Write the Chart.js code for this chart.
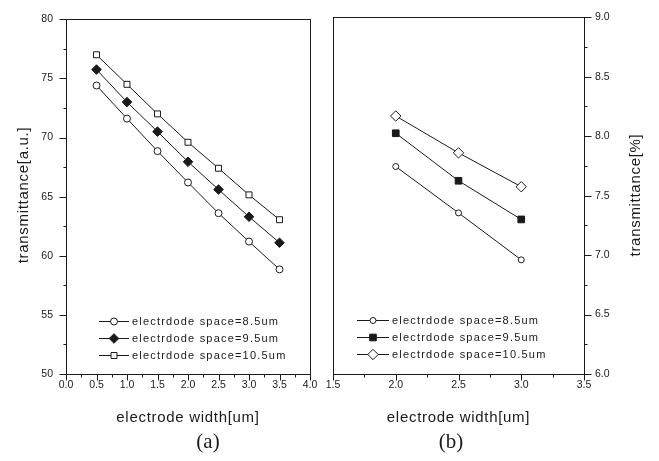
<!DOCTYPE html>
<html>
<head>
<meta charset="utf-8">
<script src="https://cdn.jsdelivr.net/npm/chart.js@4.4.1/dist/chart.umd.min.js"></script>
<style>
  html, body { margin: 0; padding: 0; background: #fff; }
  body { width: 659px; height: 461px; position: relative; overflow: hidden; }
  canvas { position: absolute; top: 0; }
  #chart-a { left: 0; }
  #chart-b { left: 316px; }
</style>
</head>
<body>
<canvas id="chart-a" width="330" height="461"></canvas>
<canvas id="chart-b" width="343" height="461"></canvas>
<script>
// panel (a): transmittance [a.u.] vs electrode width
const widthA = [0.5, 1.0, 1.5, 2.0, 2.5, 3.0, 3.5];
const space85A = [74.4, 71.6, 68.85, 66.2, 63.6, 61.2, 58.85];
const space95A = [75.75, 73.0, 70.5, 67.95, 65.6, 63.3, 61.1];
const space105A = [77.0, 74.5, 72.0, 69.6, 67.4, 65.15, 63.05];

// panel (b): transmittance [%] vs electrode width
const widthB = [2.0, 2.5, 3.0];
const space85B = [7.745, 7.355, 6.96];
const space95B = [8.025, 7.625, 7.3];
const space105B = [8.17, 7.86, 7.575];

const seriesLabels = [
  "electrdode space=8.5um",
  "electrdode space=9.5um",
  "electrdode space=10.5um",
];

const FONT = "'Liberation Sans', Arial, sans-serif";
const INK = "#1a1a1a";

function toPoints(xs, ys) {
  return xs.map((x, i) => ({ x: x, y: ys[i] }));
}

function makeDataset(label, xs, ys, style, radius, filled) {
  return {
    label: label,
    data: toPoints(xs, ys),
    borderColor: INK,
    borderWidth: 1,
    tension: 0,
    pointStyle: style,
    pointRadius: radius,
    pointBorderWidth: 1,
    pointBorderColor: INK,
    pointBackgroundColor: filled ? INK : "#fff",
  };
}

function drawMarker(ctx, style, radius, x, y) {
  if (Chart.helpers && Chart.helpers.drawPoint) {
    Chart.helpers.drawPoint(ctx, { pointStyle: style, radius: radius, borderWidth: 1, rotation: 0 }, x, y);
    return;
  }
  ctx.beginPath();
  if (style === "circle") {
    ctx.arc(x, y, radius, 0, Math.PI * 2);
  } else if (style === "rect") {
    const s = radius * Math.SQRT1_2;
    ctx.rect(x - s, y - s, 2 * s, 2 * s);
  } else {
    ctx.moveTo(x - radius, y);
    ctx.lineTo(x, y - radius);
    ctx.lineTo(x + radius, y);
    ctx.lineTo(x, y + radius);
    ctx.closePath();
  }
  ctx.fill();
  ctx.stroke();
}

// frame, minor/major tick marks, in-plot legend and titles
const framePlugin = {
  id: "frame",
  afterDraw(chart, args, opts) {
    const ctx = chart.ctx;
    const a = chart.chartArea;
    const xs = chart.scales.x;
    const ys = chart.scales.y;
    const L = Math.round(a.left) + 0.5;
    const R = Math.round(a.right) + 0.5;
    const T = Math.round(a.top) + 0.5;
    const B = Math.round(a.bottom) + 0.5;

    ctx.save();
    ctx.strokeStyle = INK;
    ctx.lineWidth = 1;
    ctx.strokeRect(L, T, R - L, B - T);

    const line = (x1, y1, x2, y2) => {
      ctx.beginPath();
      ctx.moveTo(x1, y1);
      ctx.lineTo(x2, y2);
      ctx.stroke();
    };

    // x ticks, pointing down
    const nx = Math.round((xs.max - xs.min) / opts.xMinor);
    for (let i = 0; i <= nx; i++) {
      const v = xs.min + i * opts.xMinor;
      const major = i % opts.xEvery === 0;
      const px = Math.round(xs.getPixelForValue(v)) + 0.5;
      line(px, B, px, B + (major ? 6 : 3));
    }

    // y ticks, pointing outward
    const yx = opts.ySide === "left" ? L : R;
    const dir = opts.ySide === "left" ? -1 : 1;
    const ny = Math.round((ys.max - ys.min) / opts.yMinor);
    for (let i = 0; i <= ny; i++) {
      const v = ys.min + i * opts.yMinor;
      const major = i % opts.yEvery === 0;
      const py = Math.round(ys.getPixelForValue(v)) + 0.5;
      line(yx, py, yx + dir * (major ? 7 : 3), py);
    }

    // legend
    const lg = opts.legend;
    ctx.font = "11px " + FONT;
    ctx.textBaseline = "middle";
    ctx.textAlign = "left";
    if ("letterSpacing" in ctx) ctx.letterSpacing = "1.2px";
    chart.data.datasets.forEach((ds, i) => {
      const y = Math.round(lg.y + i * lg.dy) + 0.5;
      ctx.strokeStyle = INK;
      ctx.lineWidth = 1;
      line(lg.x, y, lg.x + lg.lineLen, y);
      ctx.fillStyle = ds.pointBackgroundColor;
      drawMarker(ctx, ds.pointStyle, ds.pointRadius, lg.x + lg.lineLen / 2, y);
      ctx.fillStyle = INK;
      ctx.fillText(ds.label, lg.x + lg.lineLen + 3, y);
    });

    // axis titles
    ctx.fillStyle = INK;
    ctx.font = "15px " + FONT;
    if ("letterSpacing" in ctx) ctx.letterSpacing = "0.7px";
    ctx.textAlign = "center";
    ctx.fillText(opts.xTitle.text, opts.xTitle.x, opts.xTitle.y);
    ctx.save();
    ctx.translate(opts.yTitle.x, opts.yTitle.y);
    ctx.rotate(-Math.PI / 2);
    ctx.fillText(opts.yTitle.text, 0, 0);
    ctx.restore();

    // panel letter
    if ("letterSpacing" in ctx) ctx.letterSpacing = "0px";
    ctx.font = "21px 'Liberation Serif', 'Times New Roman', serif";
    ctx.fillText(opts.panel.text, opts.panel.x, opts.panel.y);
    ctx.restore();
  },
};

function baseOptions(cfg) {
  return {
    responsive: false,
    animation: false,
    events: [],
    layout: { padding: cfg.padding },
    plugins: {
      legend: { display: false },
      tooltip: { enabled: false },
      frame: cfg.frame,
    },
    scales: {
      x: {
        type: "linear",
        min: cfg.xMin,
        max: cfg.xMax,
        grid: { display: false, drawTicks: false },
        border: { display: false },
        ticks: {
          stepSize: 0.5,
          padding: 5,
          autoSkip: false,
          maxRotation: 0,
          color: INK,
          font: { family: FONT, size: 10.5 },
          callback: (v) => Number(v).toFixed(1),
        },
        afterFit: (s) => { s.height = 87; },
      },
      y: {
        type: "linear",
        position: cfg.ySide,
        min: cfg.yMin,
        max: cfg.yMax,
        grid: { display: false, drawTicks: false },
        border: { display: false },
        ticks: {
          stepSize: cfg.yStep,
          padding: cfg.yPad,
          autoSkip: false,
          color: INK,
          font: { family: FONT, size: 10.5 },
          callback: cfg.yFormat,
        },
        afterFit: (s) => { s.width = cfg.yWidth; },
      },
    },
  };
}

new Chart(document.getElementById("chart-a"), {
  type: "line",
  data: {
    datasets: [
      makeDataset(seriesLabels[0], widthA, space85A, "circle", 3.5, false),
      makeDataset(seriesLabels[1], widthA, space95A, "rectRot", 4.8, true),
      makeDataset(seriesLabels[2], widthA, space105A, "rect", 4.2, false),
    ],
  },
  options: baseOptions({
    padding: { top: 16, left: 0, right: 20, bottom: 0 },
    xMin: 0, xMax: 4,
    yMin: 50, yMax: 80, yStep: 5, yPad: 13, yWidth: 66, ySide: "left",
    yFormat: (v) => String(Math.round(v)),
    frame: {
      xMinor: 0.25, xEvery: 2,
      yMinor: 2.5, yEvery: 2,
      ySide: "left",
      legend: { x: 99, y: 321, dy: 17, lineLen: 30 },
      xTitle: { text: "electrode width[um]", x: 188, y: 418 },
      yTitle: { text: "transmittance[a.u.]", x: 24, y: 195 },
      panel: { text: "(a)", x: 208, y: 442 },
    },
  }),
  plugins: [framePlugin],
});

new Chart(document.getElementById("chart-b"), {
  type: "line",
  data: {
    datasets: [
      makeDataset(seriesLabels[0], widthB, space85B, "circle", 3, false),
      makeDataset(seriesLabels[1], widthB, space95B, "rect", 4.7, true),
      makeDataset(seriesLabels[2], widthB, space105B, "rectRot", 5.2, false),
    ],
  },
  options: baseOptions({
    padding: { top: 16, left: 17, right: 0, bottom: 0 },
    xMin: 1.5, xMax: 3.5,
    yMin: 6, yMax: 9, yStep: 0.5, yPad: 11, yWidth: 75, ySide: "right",
    yFormat: (v) => Number(v).toFixed(1),
    frame: {
      xMinor: 0.25, xEvery: 2,
      yMinor: 0.25, yEvery: 2,
      ySide: "right",
      legend: { x: 41, y: 320, dy: 17, lineLen: 32 },
      xTitle: { text: "electrode width[um]", x: 142.5, y: 418 },
      yTitle: { text: "transmittance[%]", x: 320, y: 195 },
      panel: { text: "(b)", x: 135, y: 442 },
    },
  }),
  plugins: [framePlugin],
});
</script>
</body>
</html>
